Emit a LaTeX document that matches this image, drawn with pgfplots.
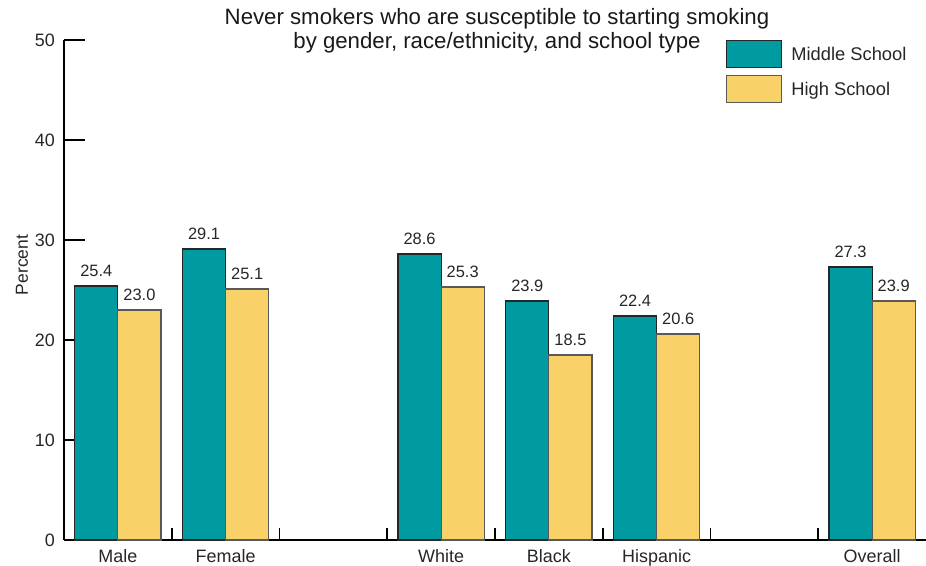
\documentclass[border=0pt]{standalone}
\usepackage{pgfplots}
\pgfplotsset{compat=1.18}
\usepackage{fontspec}
\setmainfont{Liberation Sans}
\definecolor{msteal}{RGB}{0,155,160}
\definecolor{hsyellow}{RGB}{248,210,105}
\begin{document}
\begin{tikzpicture}[x=1bp,y=1bp]
\useasboundingbox (-64bp,-26bp) rectangle (862bp,540bp);
\begin{axis}[
  scale only axis,
  width=862bp, height=500bp,
  at={(0,0)}, anchor=south west,
  xmin=-0.5, xmax=7.5,
  ymin=0, ymax=50,
  axis x line*=bottom,
  axis y line*=left,
  axis line style={line width=1.6bp, black},
  every tick/.style={line width=1.6bp, black},
  ytick={0,10,20,30,40,50},
  tick align=inside,
  ytick pos=left,
  xtick pos=bottom,
  major tick length=21bp,
  minor tick length=12bp,
  xtick={0,1,2,3,4,5,6,7},
  xticklabels={Male,Female,,White,Black,Hispanic,,Overall},
  minor x tick num=1,
  major x tick style={draw=none},
  minor x tick style={draw=black, line width=1.6bp, yshift=12bp},
  /pgf/number format/assume math mode=true,
  tick label style={font=\fontsize{18}{21}\selectfont, text=black!85},
  yticklabel style={anchor=east, inner xsep=0pt, xshift=-9bp},
  xticklabel style={anchor=base, yshift=-1bp},
  ylabel={Percent},
  ylabel style={at={(axis description cs:-0.0487,0.55)}, anchor=center, font=\fontsize{17.5}{20}\selectfont, text=black!85},
  ybar=0pt,
  bar width=0.4,
  nodes near coords,
  nodes near coords style={anchor=base, yshift=10bp, font=\fontsize{16.5}{19}\selectfont, text=black!85,
    /pgf/number format/.cd, fixed, fixed zerofill, precision=1},
  legend style={draw=none, fill=none, at={(0.768,1.0)}, anchor=north west, inner sep=0pt,
    nodes={inner sep=0pt}, row sep=7bp, font=\fontsize{18.4}{21}\selectfont, text=black!85,
    /tikz/every odd column/.append style={column sep=9bp}},
  legend cell align=left,
  legend image code/.code={\draw[#1] (0bp,-13.5bp) rectangle (55bp,13.5bp);},
  clip=false,
]
\addplot[fill=msteal, draw=black!85, line width=1.1bp, bar shift=-0.2] coordinates {
  (0,25.4) (1,29.1) (3,28.6) (4,23.9) (5,22.4) (7,27.3)};
\addplot[fill=hsyellow, draw=black!65, line width=1.1bp, bar shift=0.2] coordinates {
  (0,23.0) (1,25.1) (3,25.3) (4,18.5) (5,20.6) (7,23.9)};
\legend{Middle School, High School}
\end{axis}
\node[align=center, font=\fontsize{22.3}{24}\selectfont, text=black!90] at (433bp,509bp)
  {Never smokers who are susceptible to starting smoking\\by gender, race/ethnicity, and school type};
\end{tikzpicture}
\end{document}
